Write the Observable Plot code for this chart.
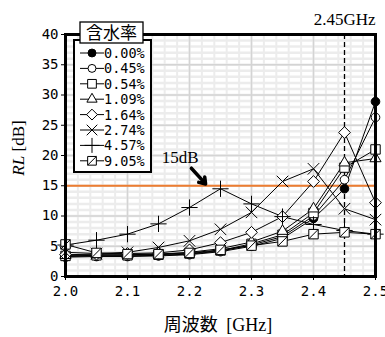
<!DOCTYPE html>
<html><head><meta charset="utf-8">
<script src="https://cdn.jsdelivr.net/npm/d3@7"></script>
<script src="https://cdn.jsdelivr.net/npm/@observablehq/plot@0.6"></script>
<style>
body{margin:0;background:#fff;}
#chart{position:relative;width:385px;height:337px;}
</style></head>
<body><div id="chart"></div>
<script>
const freqs = [2.0, 2.05, 2.1, 2.15, 2.2, 2.25, 2.3, 2.35, 2.4, 2.45, 2.5];
const labels = ["0.00%", "0.45%", "0.54%", "1.09%", "1.64%", "2.74%", "4.57%", "9.05%"];
const rl000 = [3.2, 3.3, 3.3, 3.4, 3.6, 4.1, 5.0, 6.3, 9.6, 14.5, 28.9];
const rl045 = [3.3, 3.4, 3.4, 3.5, 3.7, 4.2, 5.2, 6.6, 10.0, 16.0, 26.3];
const rl054 = [3.4, 3.5, 3.5, 3.6, 3.8, 4.3, 5.4, 6.9, 10.5, 18.0, 21.0];
const rl109 = [3.5, 3.6, 3.6, 3.7, 4.0, 4.6, 5.7, 7.5, 11.2, 18.8, 19.5];
const rl164 = [3.6, 3.7, 3.8, 3.9, 4.4, 5.6, 7.3, 9.9, 15.7, 23.8, 12.2];
const rl274 = [4.0, 3.8, 4.0, 4.8, 5.9, 7.8, 10.6, 15.7, 17.8, 11.2, 9.4];
const rl457 = [5.2, 6.0, 7.0, 8.7, 11.4, 14.5, 12.0, 9.9, 8.6, 7.6, 7.0];
const rl905 = [5.3, 3.9, 3.7, 3.7, 3.9, 4.4, 5.1, 5.8, 7.0, 7.3, 7.0];
const seriesValues = [rl000, rl045, rl054, rl109, rl164, rl274, rl457, rl905];
const xTicks = [2.0, 2.1, 2.2, 2.3, 2.4, 2.5];
const yTicks = [0, 5, 10, 15, 20, 25, 30, 35, 40];
const threshold = 15;
const markFreq = 2.45;

const squareSlash = {
  draw(ctx, size) {
    const r = Math.sqrt(size) * 0.4431;
    ctx.moveTo(r, r); ctx.lineTo(r, -r); ctx.lineTo(-r, -r); ctx.lineTo(-r, r); ctx.closePath();
    ctx.moveTo(-r, r); ctx.lineTo(r, -r);
  }
};
const styles = [
  {symbol: d3.symbolCircle, fill: "black", r: 4.3},
  {symbol: d3.symbolCircle, fill: "white", r: 4.3},
  {symbol: d3.symbolSquare2, fill: "white", r: 6},
  {symbol: d3.symbolTriangle2, fill: "white", r: 5.3},
  {symbol: d3.symbolDiamond2, fill: "white", r: 5.3},
  {symbol: d3.symbolTimes, fill: "none", r: 5.3},
  {symbol: d3.symbolPlus, fill: "none", r: 5.3},
  {symbol: squareSlash, fill: "white", r: 6}
];

const rows = [];
labels.forEach((lab, i) => freqs.forEach((f, j) => rows.push({label: lab, i, f, v: seriesValues[i][j]})));

const mono = "DejaVu Sans Mono";
const serif = "Liberation Serif";

const marks = [
  Plot.ruleX(d3.range(2.0, 2.5001, 0.02), {stroke: "#ececec", strokeWidth: 2}),
  Plot.ruleY(d3.range(0, 40.001, 1), {stroke: "#ececec", strokeWidth: 2.5}),
  Plot.ruleX(xTicks, {stroke: "#d4d4d4", strokeWidth: 1.5}),
  Plot.ruleY(yTicks, {stroke: "#d4d4d4", strokeWidth: 1.5}),
  Plot.ruleY([threshold], {stroke: "#ED7D31", strokeWidth: 2}),
  Plot.ruleX([markFreq], {stroke: "black", strokeWidth: 1.3, strokeDasharray: "5,3"}),
  Plot.line(rows, {x: "f", y: "v", z: "label", stroke: "black", strokeWidth: 1})
];
labels.forEach((lab, i) => {
  const s = styles[i];
  marks.push(Plot.dot(rows.filter(d => d.i === i), {x: "f", y: "v", symbol: () => s.symbol, r: s.r, fill: s.fill, stroke: "black", strokeWidth: 1}));
});
marks.push(
  Plot.frame({stroke: "black", strokeWidth: 3}),
  Plot.axisX({ticks: xTicks, tickFormat: d3.format(".1f"), tickSize: 4, tickPadding: 6, fontFamily: mono, fontSize: 14, label: null}),
  Plot.axisY({ticks: yTicks, tickSize: 4, tickPadding: 3, fontFamily: mono, fontSize: 14, label: null}),
  Plot.text(["15dB"], {x: 2.185, y: 19.6, fontFamily: serif, fontSize: 17, fill: "black"}),
  Plot.arrow([{x1: 2.203, y1: 17.9, x2: 2.226, y2: 15.3}], {x1: "x1", y1: "y1", x2: "x2", y2: "y2", stroke: "black", strokeWidth: 3.5, headLength: 10, headAngle: 70}),
  Plot.text(["2.45GHz"], {x: 2.5, y: 40, dy: -15, textAnchor: "end", fontFamily: serif, fontSize: 17, fill: "black"})
);

const plot = Plot.plot({
  width: 385, height: 337,
  marginLeft: 65, marginRight: 10, marginTop: 34, marginBottom: 61,
  x: {domain: [2.0, 2.5]},
  y: {domain: [0, 40]},
  style: {background: "white", overflow: "visible"},
  marks
});
document.getElementById("chart").appendChild(plot);

const svg = d3.select(plot);
// axis titles
svg.append("text").attr("transform", "translate(24,148) rotate(-90)").attr("text-anchor", "middle")
  .attr("font-family", serif).attr("font-size", 17)
  .call(t => { t.append("tspan").attr("font-style", "italic").text("RL"); t.append("tspan").text(" [dB]"); });
svg.append("text").attr("x", 218).attr("y", 331).attr("text-anchor", "middle").attr("font-size", 18)
  .call(t => { t.append("tspan").attr("font-family", "Noto Sans CJK JP").text("周波数 "); t.append("tspan").attr("font-family", serif).text(" [GHz]"); });

// legend
const lg = svg.append("g");
lg.append("rect").attr("x", 74).attr("y", 40).attr("width", 77).attr("height", 132).attr("fill", "white").attr("stroke", "black").attr("stroke-width", 2);
labels.forEach((lab, i) => {
  const y = 53 + i * 15.4;
  const s = styles[i];
  lg.append("line").attr("x1", 80).attr("x2", 104).attr("y1", y).attr("y2", y).attr("stroke", "black");
  lg.append("path").attr("transform", `translate(92,${y})`).attr("d", d3.symbol(s.symbol, Math.PI * s.r * s.r * 0.85)())
    .attr("fill", s.fill).attr("stroke", "black");
  lg.append("text").attr("x", 104).attr("y", y + 5).attr("text-anchor", "start").attr("font-family", mono).attr("font-size", 13.5).text(lab);
});
lg.append("rect").attr("x", 80).attr("y", 22).attr("width", 63).attr("height", 21).attr("fill", "white").attr("stroke", "black").attr("stroke-width", 1.3);
lg.append("text").attr("x", 111.5).attr("y", 39).attr("text-anchor", "middle").attr("font-family", "Noto Sans CJK JP").attr("font-size", 17).text("含水率");
</script></body></html>
